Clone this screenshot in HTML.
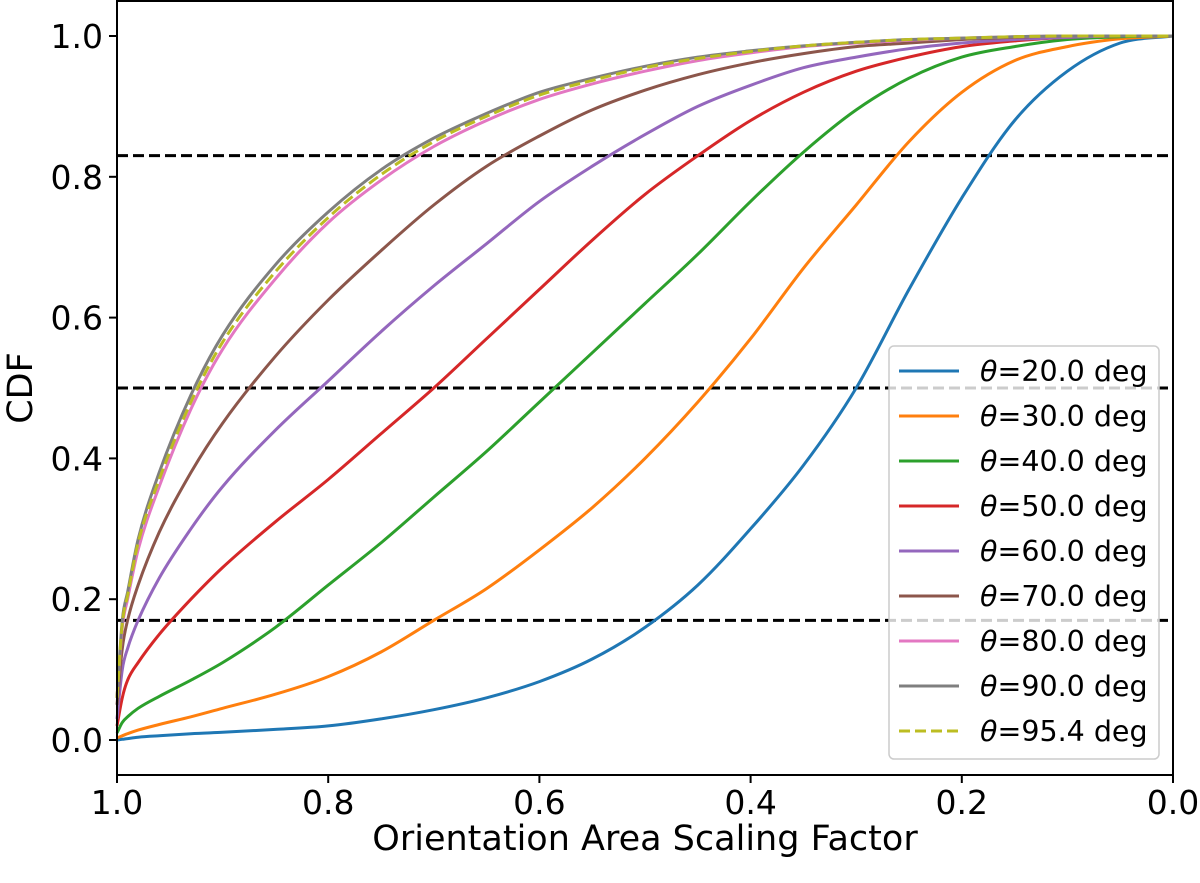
<!DOCTYPE html>
<html><head><meta charset="utf-8"><style>
body{margin:0;background:#fff;}
svg text{font-family:"DejaVu Sans","Liberation Sans",sans-serif;}
</style></head><body>
<svg id="chart" width="1200" height="878" viewBox="0 0 1200 878" xmlns="http://www.w3.org/2000/svg">
<g id="plot"></g>
</svg>
<script>
const NS="http://www.w3.org/2000/svg";
const xs=[1.0,0.995,0.99,0.98,0.96,0.93,0.9,0.85,0.8,0.75,0.7,0.65,0.6,0.55,0.5,0.45,0.4,0.35,0.3,0.25,0.2,0.15,0.1,0.05,0.0];
const s20=[0,0.001,0.002,0.004,0.006,0.009,0.011,0.015,0.02,0.03,0.043,0.06,0.083,0.115,0.16,0.22,0.30,0.39,0.5,0.64,0.77,0.88,0.95,0.99,1];
const s30=[0.003,0.006,0.009,0.014,0.022,0.033,0.045,0.065,0.09,0.125,0.17,0.215,0.27,0.33,0.40,0.48,0.57,0.67,0.76,0.85,0.92,0.965,0.985,0.996,1];
const s40=[0.01,0.025,0.033,0.045,0.062,0.085,0.11,0.16,0.22,0.28,0.345,0.41,0.48,0.55,0.62,0.69,0.765,0.835,0.895,0.94,0.97,0.985,0.995,0.999,1];
const s50=[0.02,0.06,0.085,0.11,0.15,0.2,0.245,0.31,0.37,0.435,0.5,0.57,0.64,0.71,0.775,0.83,0.88,0.92,0.95,0.97,0.985,0.993,0.998,1,1];
const s60=[0.03,0.1,0.13,0.17,0.23,0.3,0.36,0.44,0.51,0.58,0.645,0.705,0.765,0.815,0.86,0.90,0.93,0.955,0.97,0.982,0.99,0.995,0.998,1,1];
const s70=[0.05,0.13,0.17,0.22,0.295,0.38,0.45,0.545,0.625,0.695,0.76,0.815,0.858,0.895,0.923,0.945,0.962,0.975,0.985,0.99,0.995,0.998,1,1,1];
const s80=[0.06,0.16,0.2,0.27,0.36,0.47,0.555,0.655,0.735,0.795,0.843,0.88,0.91,0.932,0.95,0.965,0.976,0.985,0.99,0.994,0.997,0.999,1,1,1];
const s90=[0.06,0.17,0.21,0.285,0.38,0.49,0.575,0.675,0.75,0.81,0.855,0.89,0.92,0.94,0.957,0.97,0.979,0.986,0.991,0.995,0.997,0.999,1,1,1];
const s95=[0.06,0.165,0.205,0.28,0.37,0.48,0.565,0.665,0.742,0.803,0.85,0.886,0.916,0.937,0.955,0.968,0.978,0.986,0.991,0.995,0.997,0.999,1,1,1];
const labels=["θ=20.0 deg","θ=30.0 deg","θ=40.0 deg","θ=50.0 deg","θ=60.0 deg","θ=70.0 deg","θ=80.0 deg","θ=90.0 deg","θ=95.4 deg"];
const xTicks=[1.0,0.8,0.6,0.4,0.2,0.0];
const yTicks=[0.0,0.2,0.4,0.6,0.8,1.0];
const hLines=[0.17,0.5,0.83];
const series=[s20,s30,s40,s50,s60,s70,s80,s90,s95];
const colors=["#1f77b4","#ff7f0e","#2ca02c","#d62728","#9467bd","#8c564b","#e377c2","#7f7f7f","#bcbd22"];
const L=117,R=1173,T=1,B=775;
const X=v=>L+(1-v)*(R-L);
const Y=v=>740-v*704;
const g=document.getElementById('plot');
function mk(tag,attrs,parent){const e=document.createElementNS(NS,tag);for(const k in attrs)e.setAttribute(k,attrs[k]);(parent||g).appendChild(e);return e;}
function monoPath(px,py){
  const n=px.length,d=[],m=new Array(n);
  for(let i=0;i<n-1;i++)d.push((py[i+1]-py[i])/(px[i+1]-px[i]));
  m[0]=d[0];m[n-1]=d[n-2];
  for(let i=1;i<n-1;i++){m[i]=(d[i-1]*d[i]<=0)?0:(d[i-1]+d[i])/2;}
  for(let i=0;i<n-1;i++){if(d[i]===0){m[i]=0;m[i+1]=0;continue;}
    const a=m[i]/d[i],b=m[i+1]/d[i],s=a*a+b*b;if(s>9){const t=3/Math.sqrt(s);m[i]=t*a*d[i];m[i+1]=t*b*d[i];}}
  let p='M'+px[0].toFixed(1)+','+py[0].toFixed(1);
  for(let i=0;i<n-1;i++){const h=(px[i+1]-px[i])/3;
    p+=' C'+(px[i]+h).toFixed(1)+','+(py[i]+m[i]*h).toFixed(1)+' '+(px[i+1]-h).toFixed(1)+','+(py[i+1]-m[i+1]*h).toFixed(1)+' '+px[i+1].toFixed(1)+','+py[i+1].toFixed(1);}
  return p;
}
hLines.forEach((h,i)=>{const e=mk('line',{x1:L,x2:R,y1:Y(h),y2:Y(h),stroke:'#000','stroke-width':3,'stroke-dasharray':'11,5'});

});
series.forEach((s,i)=>{
  const e=mk('path',{d:monoPath(xs.map(X),s.map(Y)),fill:'none',stroke:colors[i],'stroke-width':3,'stroke-linejoin':'round'});
  if(i==8)e.setAttribute('stroke-dasharray','11,5');
  
  
});
const fr=mk('rect',{x:L,y:T,width:R-L,height:B-T,fill:'none',stroke:'#000','stroke-width':2});


xTicks.forEach(t=>{
  mk('line',{x1:X(t),x2:X(t),y1:B,y2:B+8,stroke:'#000','stroke-width':2});
  const e=mk('text',{x:X(t),y:B+39,'font-size':33,'text-anchor':'middle'});e.textContent=t.toFixed(1);
  
  
});
yTicks.forEach(t=>{
  mk('line',{x1:L-8,x2:L,y1:Y(t),y2:Y(t),stroke:'#000','stroke-width':2});
  const e=mk('text',{x:L-14,y:Y(t)+12,'font-size':33,'text-anchor':'end'});e.textContent=t.toFixed(1);
  
  
});
const xl=mk('text',{x:645,y:850,'font-size':35,'text-anchor':'middle'});xl.textContent='Orientation Area Scaling Factor';


const yl=mk('text',{x:0,y:0,'font-size':35,'text-anchor':'middle',transform:'translate(32,388) rotate(-90)'});yl.textContent='CDF';


const lg=mk('g',{});


mk('rect',{x:889,y:346,width:270,height:413,rx:5,fill:'#fff','fill-opacity':0.8,stroke:'#ccc','stroke-width':1.5},lg);
labels.forEach((lab,i)=>{
  const y=371+i*45;
  const ln=mk('line',{x1:899,x2:959,y1:y,y2:y,stroke:colors[i],'stroke-width':3},lg);
  if(i==8)ln.setAttribute('stroke-dasharray','11,5');
  const t=mk('text',{x:980,y:y+10,'font-size':28.5},lg);
  t.innerHTML='<tspan font-style="italic">θ</tspan>'+lab.slice(1);
  
  
});
</script>
</body></html>
